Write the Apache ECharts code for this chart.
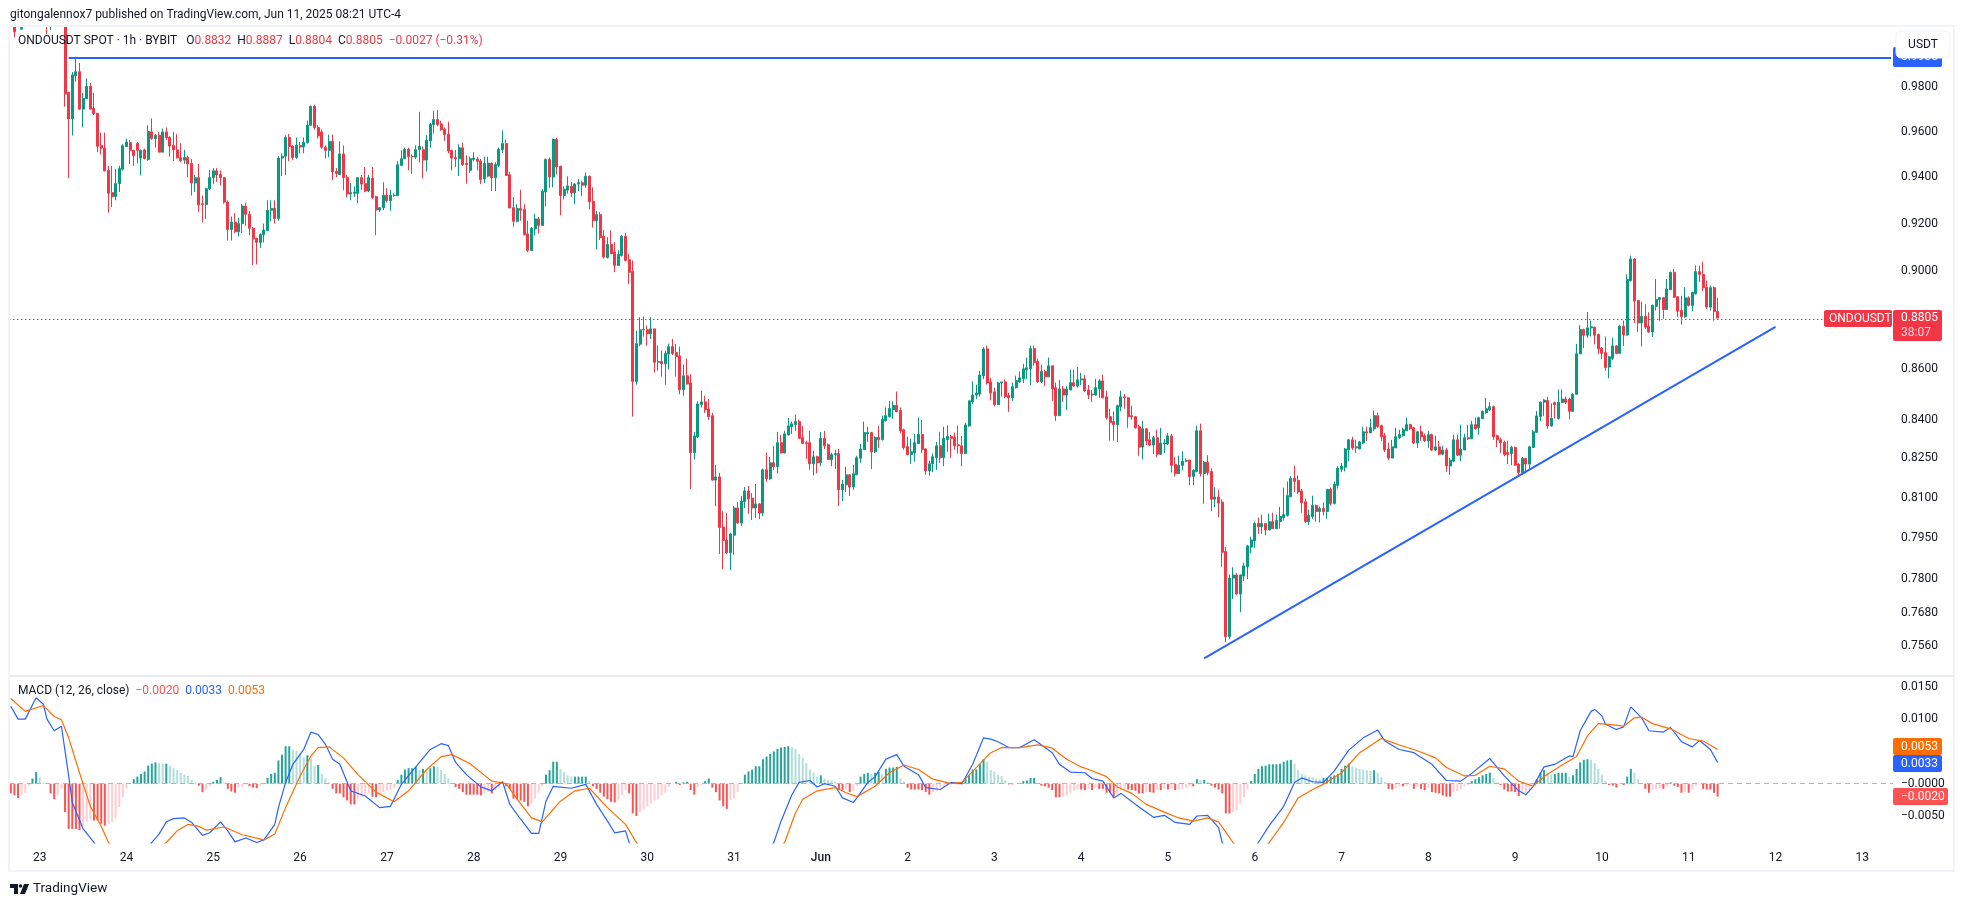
<!DOCTYPE html>
<html><head><meta charset="utf-8">
<style>html,body{margin:0;padding:0;background:#fff}#c{width:1964px;height:907px}</style>
<script src="https://cdn.jsdelivr.net/npm/echarts@6/dist/echarts.min.js"></script></head>
<body><div id="c"></div>
<script>
const opens=[1.016,1.010,1.012,1.0069,1.012,1.016,1.02,1.024,1.022,1.02,
1.015,1.012,1.017,1.019,1.022,1.028,.9778,.9658,.9853,.9872,
.9702,.9749,.9805,.9705,.9683,.9540,.9528,.9430,.9333,.9316,
.9372,.9435,.9535,.9552,.9518,.9548,.9484,.9520,.9478,.9600,
.9570,.9585,.9510,.9600,.9575,.9540,.9520,.9486,.9475,.9486,
.9460,.9375,.9398,.9285,.9282,.9350,.9398,.9428,.9412,.9398,
.9292,.9175,.9206,.9165,.9200,.9275,.9240,.9180,.9137,.9120,
.9153,.9170,.9257,.9265,.9222,.9484,.9492,.9575,.9537,.9487,
.9540,.9533,.9553,.9630,.9715,.9620,.9600,.9532,.9518,.9558,
.9425,.9412,.9502,.9400,.9327,.9330,.9330,.9398,.9372,.9340,
.9395,.9315,.9258,.9268,.9322,.9298,.9320,.9320,.9452,.9481,
.9523,.9492,.9488,.9521,.9521,.9475,.9560,.9633,.9655,.9635,
.9612,.9590,.9518,.9486,.9481,.9529,.9460,.9430,.9478,.9480,
.9470,.9392,.9405,.9460,.9398,.9452,.9522,.9548,.9411,.9268,
.9210,.9264,.9260,.9156,.9086,.9177,.9220,.9192,.9336,.9478,
.9401,.9566,.9448,.9321,.9344,.9361,.9332,.9370,.9376,.9365,
.9404,.9295,.9212,.9238,.9146,.9056,.9111,.9079,.9023,.9065,
.9146,.9047,.8998,.8550,.8699,.8757,.8757,.8741,.8761,.8626,
.8629,.8620,.8659,.8689,.8665,.8652,.8517,.8572,.8544,.8271,
.8332,.8459,.8469,.8441,.8415,.8167,.8179,.7991,.7943,.7896,
.7961,.8062,.8006,.8086,.8126,.8099,.8062,.8077,.8043,.8206,
.8172,.8233,.8218,.8310,.8271,.8340,.8372,.8380,.8392,.8330,
.8310,.8310,.8229,.8256,.8233,.8327,.8302,.8245,.8264,.8268,
.8130,.8149,.8187,.8141,.8187,.8250,.8283,.8344,.8349,.8275,
.8330,.8322,.8396,.8411,.8439,.8455,.8435,.8360,.8295,.8264,
.8271,.8307,.8342,.8286,.8202,.8229,.8252,.8298,.8252,.8322,
.8335,.8330,.8302,.8298,.8268,.8375,.8469,.8496,.8500,.8572,
.8680,.8548,.8508,.8458,.8544,.8548,.8494,.8485,.8525,.8548,
.8560,.8596,.8600,.8681,.8629,.8548,.8589,.8568,.8612,.8525,
.8415,.8520,.8496,.8516,.8545,.8532,.8556,.8560,.8516,.8500,
.8496,.8520,.8552,.8489,.8411,.8392,.8380,.8450,.8489,.8485,
.8415,.8411,.8372,.8293,.8364,.8321,.8301,.8329,.8266,.8305,
.8305,.8336,.8227,.8192,.8223,.8239,.8243,.8181,.8200,.8356,
.8192,.8235,.8200,.8095,.8103,.8084,.7901,.7595,.7804,.7815,
.7746,.7811,.7845,.7917,.7940,.8004,.7992,.8004,.7980,.8011,
.7985,.8011,.8026,.8034,.8104,.8174,.8166,.8126,.8085,.8011,
.8030,.8071,.8049,.8060,.8049,.8132,.8079,.8147,.8208,.8216,
.8282,.8321,.8294,.8286,.8309,.8352,.8348,.8364,.8415,.8376,
.8337,.8286,.8251,.8290,.8329,.8337,.8356,.8380,.8368,.8309,
.8352,.8337,.8317,.8341,.8282,.8294,.8266,.8282,.8221,.8239,
.8321,.8262,.8282,.8329,.8325,.8380,.8368,.8403,.8427,.8438,
.8450,.8337,.8321,.8312,.8272,.8268,.8292,.8228,.8196,.8249,
.8228,.8292,.8350,.8412,.8468,.8474,.8375,.8466,.8404,.8467,
.8480,.8480,.8432,.8499,.8660,.8758,.8735,.8765,.8768,.8738,
.8683,.8665,.8607,.8642,.8692,.8662,.8772,.8736,.8960,.9050,
.8877,.8785,.8812,.8772,.8748,.8853,.8880,.8889,.8840,.8922,
.8994,.8893,.8836,.8811,.8888,.8857,.8905,.8997,.8985,.8932,
.8850,.8930,.8832];
const closes=[1.010,1.0057,1.014,1.0077,1.016,1.02,1.024,1.022,1.02,1.018,
1.011,1.017,1.019,1.022,1.028,.9770,.9658,.9857,.9872,.9702,
.9750,.9805,.9702,.9682,.9536,.9528,.9428,.9330,.9315,.9372,
.9438,.9538,.9555,.9518,.9495,.9518,.9518,.9482,.9602,.9570,
.9585,.9510,.9600,.9575,.9537,.9520,.9485,.9472,.9486,.9458,
.9375,.9398,.9280,.9282,.9350,.9398,.9428,.9410,.9398,.9292,
.9175,.9206,.9165,.9200,.9275,.9240,.9180,.9135,.9120,.9153,
.9172,.9257,.9265,.9222,.9484,.9492,.9575,.9535,.9487,.9540,
.9533,.9553,.9630,.9715,.9620,.9582,.9532,.9518,.9558,.9423,
.9416,.9502,.9398,.9327,.9333,.9335,.9398,.9370,.9340,.9398,
.9312,.9258,.9268,.9322,.9298,.9322,.9322,.9455,.9481,.9523,
.9490,.9490,.9521,.9535,.9475,.9563,.9633,.9655,.9633,.9610,
.9588,.9515,.9484,.9481,.9529,.9455,.9455,.9481,.9484,.9470,
.9390,.9460,.9462,.9398,.9455,.9522,.9548,.9408,.9267,.9210,
.9264,.9257,.9153,.9086,.9180,.9220,.9192,.9339,.9478,.9401,
.9566,.9445,.9321,.9348,.9362,.9332,.9370,.9376,.9365,.9404,
.9293,.9212,.9238,.9140,.9058,.9111,.9072,.9023,.9069,.9146,
.9044,.8994,.8550,.8701,.8757,.8758,.8741,.8761,.8626,.8629,
.8620,.8661,.8689,.8661,.8649,.8517,.8572,.8540,.8271,.8336,
.8461,.8469,.8438,.8411,.8167,.8179,.7989,.7941,.7896,.7965,
.8062,.8006,.8088,.8126,.8096,.8062,.8077,.8043,.8206,.8172,
.8233,.8218,.8310,.8271,.8344,.8375,.8383,.8392,.8327,.8307,
.8307,.8229,.8256,.8233,.8327,.8298,.8245,.8264,.8268,.8130,
.8152,.8187,.8141,.8191,.8252,.8286,.8349,.8349,.8275,.8330,
.8322,.8400,.8415,.8443,.8455,.8431,.8356,.8291,.8264,.8275,
.8310,.8342,.8283,.8202,.8229,.8256,.8298,.8252,.8327,.8335,
.8327,.8298,.8298,.8268,.8379,.8473,.8496,.8504,.8575,.8680,
.8544,.8504,.8458,.8544,.8548,.8490,.8485,.8529,.8553,.8564,
.8600,.8604,.8681,.8625,.8548,.8589,.8568,.8612,.8520,.8415,
.8520,.8496,.8520,.8545,.8532,.8556,.8560,.8512,.8496,.8496,
.8525,.8552,.8485,.8407,.8388,.8380,.8454,.8489,.8485,.8411,
.8411,.8368,.8293,.8364,.8317,.8301,.8329,.8266,.8309,.8309,
.8336,.8223,.8192,.8223,.8239,.8242,.8181,.8204,.8356,.8192,
.8235,.8196,.8095,.8103,.8080,.7898,.7595,.7804,.7815,.7746,
.7815,.7848,.7921,.7943,.8004,.7992,.8004,.7980,.8011,.7985,
.8015,.8030,.8037,.8108,.8174,.8162,.8122,.8082,.8011,.8034,
.8071,.8049,.8060,.8049,.8132,.8079,.8151,.8212,.8220,.8286,
.8321,.8290,.8290,.8313,.8352,.8348,.8368,.8415,.8372,.8333,
.8282,.8251,.8294,.8333,.8341,.8360,.8380,.8364,.8309,.8352,
.8333,.8317,.8341,.8282,.8294,.8266,.8282,.8221,.8243,.8321,
.8262,.8286,.8329,.8325,.8380,.8364,.8407,.8431,.8442,.8450,
.8333,.8321,.8310,.8265,.8265,.8292,.8224,.8196,.8250,.8228,
.8294,.8352,.8414,.8468,.8476,.8375,.8404,.8458,.8468,.8480,
.8467,.8432,.8499,.8660,.8758,.8735,.8765,.8770,.8735,.8680,
.8662,.8605,.8648,.8692,.8662,.8772,.8736,.8964,.9050,.8875,
.8785,.8812,.8768,.8748,.8857,.8881,.8889,.8840,.8925,.8994,
.8891,.8833,.8811,.8888,.8857,.8910,.8997,.8985,.8930,.8850,
.8930,.8832,.8805];
const highs=[1.02,1.015,1.018,1.012,1.016,1.02,1.026,1.028,1.026,1.024,
1.018,1.02,1.024,1.026,1.032,1.032,.9778,.987,.9941,.9912,
.9775,.9841,.9820,.9775,.9683,.9597,.9597,.9450,.9450,.9435,
.9450,.9545,.9570,.9563,.9520,.9555,.9522,.9525,.9630,.9660,
.9590,.9600,.9615,.9620,.9580,.9600,.9590,.9550,.9520,.9495,
.9480,.9410,.9458,.9320,.9355,.9432,.9440,.9440,.9430,.9400,
.9300,.9230,.9245,.9225,.9285,.9290,.9255,.9185,.9140,.9158,
.9200,.9300,.9300,.9300,.9492,.9505,.9585,.9590,.9540,.9575,
.9555,.9575,.9650,.9718,.9722,.9630,.9610,.9540,.9588,.9588,
.9440,.9558,.9540,.9410,.9375,.9360,.9400,.9410,.9445,.9410,
.9445,.9320,.9270,.9378,.9352,.9345,.9330,.9470,.9518,.9530,
.9530,.9500,.9540,.9690,.9535,.9585,.9640,.9695,.9698,.9650,
.9620,.9645,.9520,.9520,.9545,.9552,.9495,.9490,.9510,.9490,
.9480,.9490,.9490,.9465,.9465,.9530,.9607,.9566,.9424,.9314,
.9283,.9346,.9283,.9212,.9185,.9242,.9228,.9348,.9482,.9486,
.9570,.9574,.9450,.9361,.9404,.9379,.9375,.9393,.9385,.9421,
.9408,.9356,.9255,.9250,.9173,.9141,.9171,.9121,.9086,.9150,
.9161,.9072,.9044,.8754,.8808,.8811,.8775,.8808,.8761,.8693,
.8673,.8673,.8701,.8720,.8700,.8689,.8617,.8641,.8579,.8352,
.8471,.8513,.8493,.8481,.8426,.8225,.8194,.8050,.8043,.7970,
.8069,.8084,.8107,.8141,.8145,.8118,.8152,.8080,.8210,.8271,
.8256,.8298,.8352,.8340,.8356,.8406,.8392,.8419,.8400,.8375,
.8318,.8356,.8279,.8260,.8352,.8356,.8307,.8271,.8283,.8286,
.8167,.8218,.8190,.8225,.8260,.8305,.8392,.8372,.8352,.8335,
.8375,.8415,.8447,.8473,.8471,.8510,.8447,.8364,.8333,.8325,
.8344,.8408,.8398,.8290,.8241,.8268,.8313,.8352,.8372,.8377,
.8340,.8349,.8377,.8336,.8387,.8473,.8550,.8537,.8592,.8687,
.8693,.8564,.8525,.8548,.8548,.8558,.8505,.8545,.8573,.8589,
.8620,.8645,.8693,.8693,.8641,.8616,.8597,.8645,.8612,.8545,
.8556,.8532,.8532,.8596,.8596,.8608,.8584,.8576,.8536,.8516,
.8560,.8560,.8576,.8513,.8442,.8431,.8458,.8513,.8500,.8489,
.8454,.8414,.8380,.8395,.8367,.8352,.8336,.8360,.8368,.8324,
.8348,.8344,.8254,.8260,.8277,.8250,.8245,.8208,.8376,.8384,
.8240,.8262,.8212,.8140,.8130,.8095,.7918,.7817,.7843,.7822,
.7817,.7860,.7925,.7955,.8011,.8026,.8037,.8006,.8041,.8044,
.8037,.8066,.8139,.8162,.8182,.8222,.8185,.8134,.8097,.8056,
.8108,.8075,.8067,.8082,.8132,.8139,.8162,.8220,.8232,.8290,
.8325,.8333,.8321,.8317,.8372,.8372,.8403,.8435,.8427,.8380,
.8348,.8310,.8321,.8368,.8360,.8368,.8407,.8384,.8372,.8356,
.8376,.8345,.8356,.8345,.8337,.8317,.8298,.8290,.8251,.8341,
.8341,.8380,.8345,.8380,.8395,.8407,.8411,.8435,.8485,.8468,
.8455,.8341,.8330,.8318,.8318,.8298,.8295,.8231,.8255,.8252,
.8298,.8360,.8433,.8471,.8480,.8489,.8463,.8470,.8518,.8518,
.8490,.8486,.8503,.8700,.8776,.8762,.8830,.8795,.8770,.8742,
.8687,.8730,.8652,.8725,.8695,.8778,.8795,.8985,.9064,.9053,
.8880,.8872,.8862,.8829,.8861,.8966,.8892,.8892,.8966,.8997,
.9008,.8896,.8897,.8932,.8894,.8913,.9022,.9022,.9039,.8960,
.8939,.8935,.8887];
const lows=[1.009,1.0031,1.0085,1.0069,1.01,1.012,1.016,1.018,1.016,1.014,
1.0046,1.0064,1.012,1.015,1.018,.9713,.9396,.9584,.9826,.9697,
.9620,.9749,.9700,.9675,.9510,.9500,.9425,.9247,.9270,.9300,
.9336,.9430,.9535,.9458,.9450,.9460,.9408,.9478,.9472,.9565,
.9530,.9510,.9510,.9565,.9490,.9470,.9482,.9465,.9458,.9400,
.9320,.9336,.9250,.9205,.9220,.9345,.9370,.9380,.9365,.9285,
.9128,.9128,.9160,.9145,.9160,.9190,.9150,.9025,.9027,.9097,
.9120,.9168,.9210,.9200,.9212,.9405,.9410,.9470,.9475,.9480,
.9505,.9505,.9548,.9625,.9610,.9570,.9525,.9482,.9488,.9388,
.9400,.9412,.9343,.9312,.9300,.9315,.9288,.9345,.9335,.9335,
.9305,.9150,.9250,.9258,.9290,.9255,.9315,.9318,.9450,.9480,
.9430,.9415,.9480,.9465,.9395,.9425,.9530,.9592,.9625,.9605,
.9560,.9505,.9430,.9445,.9405,.9450,.9372,.9420,.9470,.9430,
.9370,.9375,.9400,.9340,.9340,.9445,.9506,.9405,.9265,.9187,
.9205,.9212,.9149,.9079,.9083,.9149,.9158,.9190,.9274,.9354,
.9356,.9412,.9235,.9304,.9329,.9314,.9283,.9340,.9319,.9354,
.9261,.9183,.9090,.9130,.9052,.9052,.9070,.8995,.9020,.9060,
.9040,.8945,.8411,.8537,.8691,.8730,.8693,.8720,.8585,.8593,
.8569,.8537,.8597,.8655,.8569,.8499,.8493,.8537,.8133,.8245,
.8329,.8447,.8426,.8399,.8165,.8069,.7892,.7837,.7892,.7833,
.7889,.8004,.7995,.8062,.8040,.8017,.8025,.8020,.8032,.8160,
.8168,.8206,.8193,.8268,.8268,.8338,.8344,.8356,.8325,.8305,
.8248,.8206,.8184,.8193,.8220,.8286,.8243,.8220,.8209,.8069,
.8088,.8122,.8107,.8130,.8187,.8233,.8283,.8313,.8209,.8270,
.8290,.8318,.8392,.8408,.8403,.8428,.8346,.8283,.8262,.8229,
.8237,.8305,.8271,.8187,.8184,.8197,.8206,.8233,.8220,.8275,
.8252,.8283,.8268,.8220,.8268,.8372,.8461,.8481,.8490,.8559,
.8537,.8475,.8451,.8458,.8490,.8483,.8430,.8473,.8521,.8544,
.8544,.8560,.8536,.8613,.8544,.8544,.8532,.8568,.8473,.8395,
.8415,.8469,.8437,.8516,.8528,.8525,.8536,.8509,.8480,.8469,
.8493,.8485,.8483,.8399,.8318,.8318,.8312,.8432,.8442,.8368,
.8399,.8364,.8260,.8246,.8301,.8297,.8266,.8254,.8262,.8270,
.8301,.8196,.8181,.8192,.8204,.8235,.8148,.8148,.8197,.8181,
.8078,.8185,.8050,.8065,.8027,.7845,.7575,.7585,.7729,.7744,
.7681,.7793,.7800,.7895,.7914,.7966,.7966,.7960,.7980,.7985,
.7985,.7985,.8015,.8030,.8104,.8122,.8115,.8044,.8005,.7999,
.8022,.8011,.8008,.8034,.8022,.8071,.8075,.8135,.8197,.8200,
.8239,.8282,.8270,.8286,.8305,.8317,.8348,.8356,.8368,.8317,
.8274,.8243,.8251,.8290,.8325,.8333,.8356,.8360,.8305,.8290,
.8317,.8313,.8290,.8278,.8278,.8262,.8262,.8198,.8187,.8235,
.8258,.8239,.8282,.8321,.8325,.8360,.8341,.8403,.8423,.8434,
.8321,.8294,.8270,.8258,.8228,.8224,.8220,.8186,.8186,.8193,
.8208,.8290,.8348,.8393,.8414,.8364,.8372,.8404,.8400,.8465,
.8460,.8400,.8432,.8497,.8660,.8683,.8725,.8730,.8698,.8660,
.8640,.8592,.8562,.8635,.8658,.8660,.8692,.8734,.8955,.8785,
.8748,.8690,.8760,.8745,.8728,.8836,.8794,.8802,.8838,.8920,
.8887,.8810,.8778,.8806,.8853,.8833,.8902,.8953,.8916,.8842,
.8836,.8795,.8804];
const histogram=[-.0015,-.0018,-.0022,-.0017,-.0014,-.0003,.0008,.0018,.0010,.0002,
0,-.0015,-.0024,-.0018,-.0008,-.0044,-.0070,-.0070,-.0070,-.0072,
-.0065,-.0059,-.0055,-.0057,-.0057,-.0062,-.0065,-.0063,-.0059,-.0054,
-.0036,-.0021,-.0008,0,.0007,.0011,.0015,.0019,.0028,.0031,
.0033,.0032,.0031,.0031,.0028,.0024,.0021,.0017,.0014,.0012,
.0006,.0002,-.0003,-.0013,-.0010,-.0004,.0003,.0006,.0010,.0002,
-.0008,-.0012,-.0014,-.0006,-.0005,-.0001,-.0004,-.0006,-.0007,-.0003,
-.0001,.0009,.0015,.0017,.0036,.0045,.0058,.0058,.0053,.0051,
.0047,.0041,.0044,.0039,.0028,.0029,.0015,.0008,.0002,-.0008,
-.0015,-.0015,-.0021,-.0026,-.0032,-.0032,-.0023,-.0021,-.0018,-.0015,
-.0020,-.0021,-.0015,-.0013,-.0011,-.0010,-.0006,.0006,.0014,.0022,
.0024,.0024,.0026,.0022,.0023,.0022,.0024,.0027,.0026,.0021,
.0015,.0008,0,-.0005,-.0008,-.0013,-.0017,-.0017,-.0017,-.0017,
-.0018,-.0015,-.0013,-.0015,-.0010,-.0006,.0002,-.0004,-.0008,-.0023,
-.0024,-.0026,-.0028,-.0035,-.0031,-.0023,-.0014,-.0004,.0014,.0021,
.0034,.0034,.0023,.0018,.0013,.0011,.0011,.0011,.0011,.0011,
.0004,-.0004,-.0008,-.0014,-.0020,-.0024,-.0028,-.0029,-.0026,-.0018,
-.0010,-.0015,-.0046,-.0050,-.0044,-.0040,-.0035,-.0030,-.0026,-.0024,
-.0018,-.0014,-.0005,-.0001,.0003,-.0002,.0002,.0003,-.0010,-.0017,
-.0005,-.0002,.0004,.0008,-.0006,-.0013,-.0026,-.0035,-.0039,-.0026,
-.0023,-.0013,0,.0014,.0019,.0022,.0027,.0027,.0038,.0042,
.0046,.0050,.0054,.0056,.0057,.0058,.0057,.0054,.0046,.0040,
.0032,.0022,.0017,.0011,.0013,.0008,.0006,.0005,.0003,-.0009,
-.0010,-.0009,-.0013,-.0011,-.0003,.0011,.0015,.0017,.0015,.0017,
.0018,.0015,.0023,.0025,.0025,.0026,.0008,.0003,-.0006,-.0009,
-.0009,-.0009,-.0010,-.0013,-.0017,-.0013,-.0011,-.0005,-.0004,-.0002,
0,0,-.0001,-.0001,.0008,.0013,.0022,.0022,.0031,.0038,
.0034,.0021,.0019,.0014,.0012,.0005,-.0001,-.0001,0,0,
.0004,.0005,.0009,.0009,0,-.0003,-.0004,-.0006,-.0010,-.0021,
-.0021,-.0020,-.0018,-.0014,-.0011,-.0009,-.0009,-.0010,-.0009,-.0010,
-.0006,-.0008,-.0008,-.0014,-.0014,-.0020,-.0017,-.0010,-.0008,-.0009,
-.0010,-.0011,-.0015,-.0015,-.0013,-.0013,-.0014,-.0010,-.0010,-.0008,
-.0009,-.0008,-.0010,-.0009,-.0008,-.0006,-.0004,-.0004,.0007,.0006,
.0006,.0003,-.0003,-.0006,-.0009,-.0015,-.0046,-.0046,-.0044,-.0041,
-.0031,-.0021,-.0009,.0004,.0015,.0023,.0027,.0028,.0030,.0030,
.0030,.0031,.0034,.0036,.0037,.0031,.0021,.0015,.0013,.0011,
.0010,.0008,.0007,.0009,.0009,.0011,.0013,.0015,.0023,.0028,
.0031,.0027,.0024,.0023,.0022,.0021,.0020,.0021,.0017,.0010,
.0003,-.0008,-.0009,-.0007,-.0004,-.0004,-.0003,-.0002,-.0008,-.0005,
-.0008,-.0010,-.0006,-.0013,-.0014,-.0015,-.0018,-.0020,-.0020,-.0013,
-.0011,-.0009,-.0004,-.0002,.0004,.0007,.0010,.0013,.0015,.0017,
.0009,.0002,-.0002,-.0009,-.0012,-.0012,-.0013,-.0019,-.0015,-.0014,
-.0010,.0001,.0007,.0017,.0021,.0017,.0014,.0015,.0017,.0017,
.0017,.0011,.0013,.0023,.0033,.0037,.0038,.0037,.0032,.0023,
.0014,.0004,-.0002,-.0003,-.0006,-.0001,-.0002,.0011,.0023,.0017,
.0007,0,-.0008,-.0014,-.0010,-.0009,-.0007,-.0008,-.0004,.0002,
-.0003,-.0005,-.0014,-.0013,-.0014,-.0009,-.0003,-.0001,-.0008,-.0009,
-.0009,-.0014,-.0020];
const macdBars=[0,2,4,7,9,10,12,14,16,17,20,23,26,30,35,39,41,43,45,48,50,53,55,58,60,62,65,68,70,73,74,76,78,81,83,85,87,89,91,94,98,102,105,108,112,116,119,121,123,126,130,133,136,138,141,144,146,148,150,155,159,162,165,167,170,171,180,190,200,211,213,216,218,221,223,225,228,230,233,234,237,239,242,245,247,251,253,257,260,263,266,269,271,273,276,279,283,286,288,290,293,297,299,302,305,307,312,316,319,322,326,328,331,334,335,338,341,345,348,352,355,357,360,363,366,370,374,378,380,383,384,388,393,397,401,404,409,413,417,419,421,424,427,431,432,434,437,438,440,441,444,446,448,451,453,457,459,462,465,467,470,472];
const macdValues=[.0120,.0100,.0100,.0133,.0123,.0100,.0082,.0089,.0012,-.0029,-.0070,-.0091,-.0115,-.0135,-.0120,-.0091,-.0078,-.0059,-.0054,-.0053,-.0060,-.0080,-.0076,-.0059,-.0073,-.0090,-.0084,-.0091,-.0087,-.0063,-.0037,.0002,.0030,.0053,.0080,.0076,.0061,.0038,.0030,-.0011,-.0019,-.0037,-.0035,-.0001,.0026,.0053,.0062,.0059,.0033,.0014,-.0005,-.0011,.0003,-.0032,-.0055,-.0077,-.0077,-.0027,-.0004,-.0007,-.0001,-.0032,-.0058,-.0076,-.0073,-.0091,-.0170,-.0200,-.0170,-.0091,-.0058,-.0017,.0002,.0005,-.0005,0,-.0004,-.0022,-.0029,-.0022,.0002,.0011,.0038,.0045,.0027,.0014,-.0006,-.0009,.0002,0,.0030,.0071,.0069,.0065,.0056,.0056,.0068,.0056,.0048,.0030,.0018,.0017,.0008,.0004,-.0022,-.0015,-.0036,-.0052,-.0049,-.0060,-.0063,-.0050,-.0049,-.0068,-.0091,-.0120,-.0125,-.0091,-.0065,-.0035,.0002,.0009,.0003,.0002,.0020,.0052,.0071,.0083,.0066,.0056,.0053,.0048,.0030,.0005,.0004,.0016,.0039,.0012,-.0011,-.0017,-.0004,.0026,.0030,.0043,.0042,.0082,.0112,.0115,.0105,.0092,.0084,.0088,.0119,.0102,.0082,.0080,.0087,.0065,.0057,.0067,.0053,.0033];
const signalBars=[0,4,9,12,14,16,19,22,25,27,33,38,43,46,49,52,54,59,64,70,73,76,80,83,85,88,92,96,101,106,110,115,119,122,127,133,137,140,144,147,152,156,160,165,170,173,185,200,214,217,219,223,228,231,234,239,243,247,251,255,260,263,267,271,274,279,284,288,292,296,299,303,306,310,314,319,323,327,331,334,338,342,348,352,356,360,363,368,373,379,382,384,389,394,397,402,405,409,413,417,421,424,429,433,436,439,442,446,449,451,454,459,464,468,472];
const signalValues=[.0132,.0112,.0121,.0104,.0099,.0071,.0017,-.0035,-.0066,-.0091,-.0125,-.0115,-.0091,-.0073,-.0063,-.0066,-.0072,-.0067,-.0079,-.0087,-.0078,-.0037,.0012,.0043,.0056,.0057,.0040,.0014,-.0013,-.0028,-.0011,.0022,.0042,.0045,.0031,.0004,0,-.0024,-.0053,-.0059,-.0027,-.0011,-.0007,-.0037,-.0063,-.0091,-.0155,-.0160,-.0091,-.0045,-.0024,-.0011,-.0006,-.0014,-.0020,-.0004,.0017,.0029,.0022,.0007,0,.0002,.0025,.0048,.0056,.0056,.0060,.0055,.0038,.0026,.0020,.0011,-.0005,-.0015,-.0032,-.0044,-.0053,-.0058,-.0053,-.0059,-.0091,-.0120,-.0091,-.0060,-.0022,-.0009,-.0001,.0017,.0048,.0070,.0064,.0060,.0051,.0040,.0025,.0012,.0013,.0027,.0023,.0004,-.0004,.0011,.0029,.0042,.0074,.0093,.0092,.0089,.0102,.0103,.0093,.0085,.0070,.0066,.0053];
const dayLabels=['23','24','25','26','27','28','29','30','31','Jun','2','3','4','5','6','7','8','9','10','11','12','13'];
const priceTicks=[.98,.96,.94,.92,.9,.86,.84,.825,.81,.795,.78,.768,.756];
const macdTicks=[.015,.01,0,-.005];
const levelPrice=.9935, lastPrice=.8805;
const trendBars=[330,488], trendPrices=[.7518,.8769];
const levelStartBar=16;

const slotCount=521, firstDaySlot=8;
const priceMin=.7457, priceMax=1.0079;
const categories=[];
for(let i=0;i<slotCount;i++){const k=(i-firstDaySlot)/24;categories.push(Number.isInteger(k)&&k>=0?dayLabels[k]:'');}
const FONT='Roboto';
const candleData=opens.map((o,i)=>[o,closes[i],lows[i],highs[i]]);
const histData=histogram.map((v,i)=>{
  const p=i?histogram[i-1]:v;
  const c=v>=0?(v>=p?'#26a69a':'#b2dfdb'):(v>p?'#ffcdd2':'#ff5252');
  return {value:v,itemStyle:{color:c}};
});
const L=9,R=1893;
const box=(x,y,w,h,fill,txt,opt={})=>[{type:'rect',z:50,silent:true,shape:{x,y,width:w,height:h,r:2},style:{fill}},
 {type:'text',z:51,silent:true,style:{x:opt.tx||x+8,y:y+(opt.ty||h/2),text:txt,fill:opt.color||'#fff',font:`12px ${FONT}`,verticalAlign:'middle',align:'left'}}];
const graphics=[
 {type:'rect',z:40,silent:true,shape:{x:0,y:0,width:1964,height:26},style:{fill:'#fff'}},
 {type:'rect',z:41,silent:true,shape:{x:9,y:26,width:1945,height:845},style:{fill:'none',stroke:'#f0f3fa',lineWidth:2}},
 {type:'line',z:1,silent:true,shape:{x1:10,y1:676,x2:1953,y2:676},style:{stroke:'#e0e3eb',lineWidth:1.5}},
 {type:'text',z:60,style:{x:10,y:15,text:'gitongalennox7 published on TradingView.com, Jun 11, 2025 08:21 UTC-4',fill:'#131722',font:`12px ${FONT}`,verticalAlign:'middle'}},
 {type:'text',z:60,style:{x:18,y:41,verticalAlign:'middle',font:`12px ${FONT}`,fill:'#131722',
   text:'{a|ONDOUSDT SPOT · 1h · BYBIT   O}{r|0.8832}{a|  H}{r|0.8887}{a|  L}{r|0.8804}{a|  C}{r|0.8805}{r|  −0.0027 (−0.31%)}',
   rich:{a:{fill:'#131722',font:`12px ${FONT}`},r:{fill:'#f23645',font:`12px ${FONT}`}}}},
 {type:'text',z:60,style:{x:18,y:691,verticalAlign:'middle',font:`12px ${FONT}`,fill:'#131722',
   text:'{a|MACD (12, 26, close)}  {r|−0.0020}  {b|0.0033}  {o|0.0053}',
   rich:{a:{fill:'#131722',font:`12px ${FONT}`},r:{fill:'#ff5252',font:`12px ${FONT}`},b:{fill:'#2962ff',font:`12px ${FONT}`},o:{fill:'#ff6d00',font:`12px ${FONT}`}}}},
 ...box(1893,47,49,20,'#2962ff','0.9935'),
 {type:'rect',z:55,silent:true,shape:{x:1896,y:31,width:54,height:27,r:5},style:{fill:'#fff',stroke:'#f0f3fa',lineWidth:1}},
 {type:'text',z:56,style:{x:1923,y:45,text:'USDT',fill:'#131722',font:`12px ${FONT}`,align:'center',verticalAlign:'middle'}},
 ...box(1824,310,68,17,'#f23645','ONDOUSDT',{tx:1829}),
 {type:'rect',z:50,silent:true,shape:{x:1893,y:310,width:49,height:31,r:2},style:{fill:'#f23645'}},
 {type:'text',z:51,style:{x:1901,y:318,text:'0.8805',fill:'#fff',font:`12px ${FONT}`,verticalAlign:'middle'}},
 {type:'text',z:51,style:{x:1901,y:333,text:'38:07',fill:'#ffd0d5',font:`12px ${FONT}`,verticalAlign:'middle'}},
 ...box(1893,738,49,17,'#ff6d00','0.0053'),
 ...box(1893,755,49,17,'#2962ff','0.0033'),
 ...box(1893,788,55,17,'#ff5252','−0.0020'),
 {type:'text',style:{x:33,y:889,text:'TradingView',fill:'#131722',font:`13.5px ${FONT}`,verticalAlign:'middle'}},
 {type:'polygon',silent:true,shape:{points:[[10,884],[18,884],[18,894],[14,894],[14,888],[10,888]]},style:{fill:'#131722'}},
 {type:'circle',silent:true,shape:{cx:20.5,cy:886,r:1.8},style:{fill:'#131722'}},
 {type:'polygon',silent:true,shape:{points:[[24,884],[29,884],[25,894],[20,894]]},style:{fill:'#131722'}}
];
const option={
 animation:false,backgroundColor:'#fff',
 textStyle:{fontFamily:FONT},
 grid:[{left:L,top:27,width:R-L,height:649},{left:L,top:677,width:R-L,height:166}],
 xAxis:[
  {type:'category',gridIndex:0,data:categories,boundaryGap:true,axisLine:{show:false},axisTick:{show:false},axisLabel:{show:false},splitLine:{show:false}},
  {type:'category',gridIndex:1,data:categories,boundaryGap:true,axisLine:{show:false},axisTick:{show:false},splitLine:{show:false},
   axisLabel:{interval:(i,v)=>v!=='',margin:9,hideOverlap:false,color:'#131722',fontSize:12,fontFamily:FONT,
     formatter:v=>v==='Jun'?'{j|Jun}':v,rich:{j:{fontWeight:500,color:'#131722',fontSize:12,fontFamily:FONT}}}}
 ],
 yAxis:[
  {type:'log',gridIndex:0,position:'right',min:priceMin,max:priceMax,
   axisLine:{show:false},axisTick:{show:false},splitLine:{show:false},minorTick:{show:false},minorSplitLine:{show:false},axisLabel:{show:false}},
  {type:'value',gridIndex:1,position:'right',min:-.00918,max:.01652,scale:true,
   axisLine:{show:false},axisTick:{show:false},splitLine:{show:false},
   axisLabel:{customValues:macdTicks,margin:8,color:'#131722',fontSize:12,fontFamily:FONT,
     formatter:v=>v<=0?'−'+Math.abs(v).toFixed(4):v.toFixed(4)}},
  {type:'value',gridIndex:0,position:'right',min:Math.log(priceMin),max:Math.log(priceMax),scale:true,
   axisLine:{show:false},axisTick:{show:false},splitLine:{show:false},
   axisLabel:{customValues:priceTicks.map(v=>Math.log(v)),margin:8,color:'#131722',fontSize:12,fontFamily:FONT,
     formatter:v=>Math.exp(v).toFixed(4)}}
 ],
 series:[
  {type:'candlestick',name:'ONDOUSDT',xAxisIndex:0,yAxisIndex:0,data:candleData,barWidth:2.5,clip:true,
   itemStyle:{color:'#089981',color0:'#f23645',borderColor:'#089981',borderColor0:'#f23645',borderWidth:1},
   markLine:{silent:true,symbol:'none',label:{show:false},animation:false,data:[
     {yAxis:lastPrice,lineStyle:{color:'#f23645',type:[1.5,2.5],width:1}},
     [{coord:[levelStartBar,levelPrice],lineStyle:{color:'#2962ff',width:2,type:'solid'}},{coord:[slotCount-1,levelPrice]}]
   ]}},
  {type:'line',name:'Trend',xAxisIndex:0,yAxisIndex:0,data:trendBars.map((b,i)=>[b,trendPrices[i]]),symbol:'none',lineStyle:{color:'#2962ff',width:2},silent:true,z:5},
  {type:'bar',name:'Histogram',xAxisIndex:1,yAxisIndex:1,data:histData,barWidth:2,
   markLine:{silent:true,symbol:'none',label:{show:false},animation:false,data:[{yAxis:0,lineStyle:{color:'#b2b5be',type:[5,4],width:1}}]}},
  {type:'line',name:'MACD',xAxisIndex:1,yAxisIndex:1,data:macdBars.map((b,i)=>[b,macdValues[i]]),symbol:'none',lineStyle:{color:'#2962ff',width:1.2},clip:true,z:6,silent:true},
  {type:'line',name:'Signal',xAxisIndex:1,yAxisIndex:1,data:signalBars.map((b,i)=>[b,signalValues[i]]),symbol:'none',lineStyle:{color:'#ff6d00',width:1.2},clip:true,z:7,silent:true}
 ],
 graphic:graphics
};
echarts.init(document.getElementById('c'),null,{renderer:'canvas'}).setOption(option);
</script></body></html>
